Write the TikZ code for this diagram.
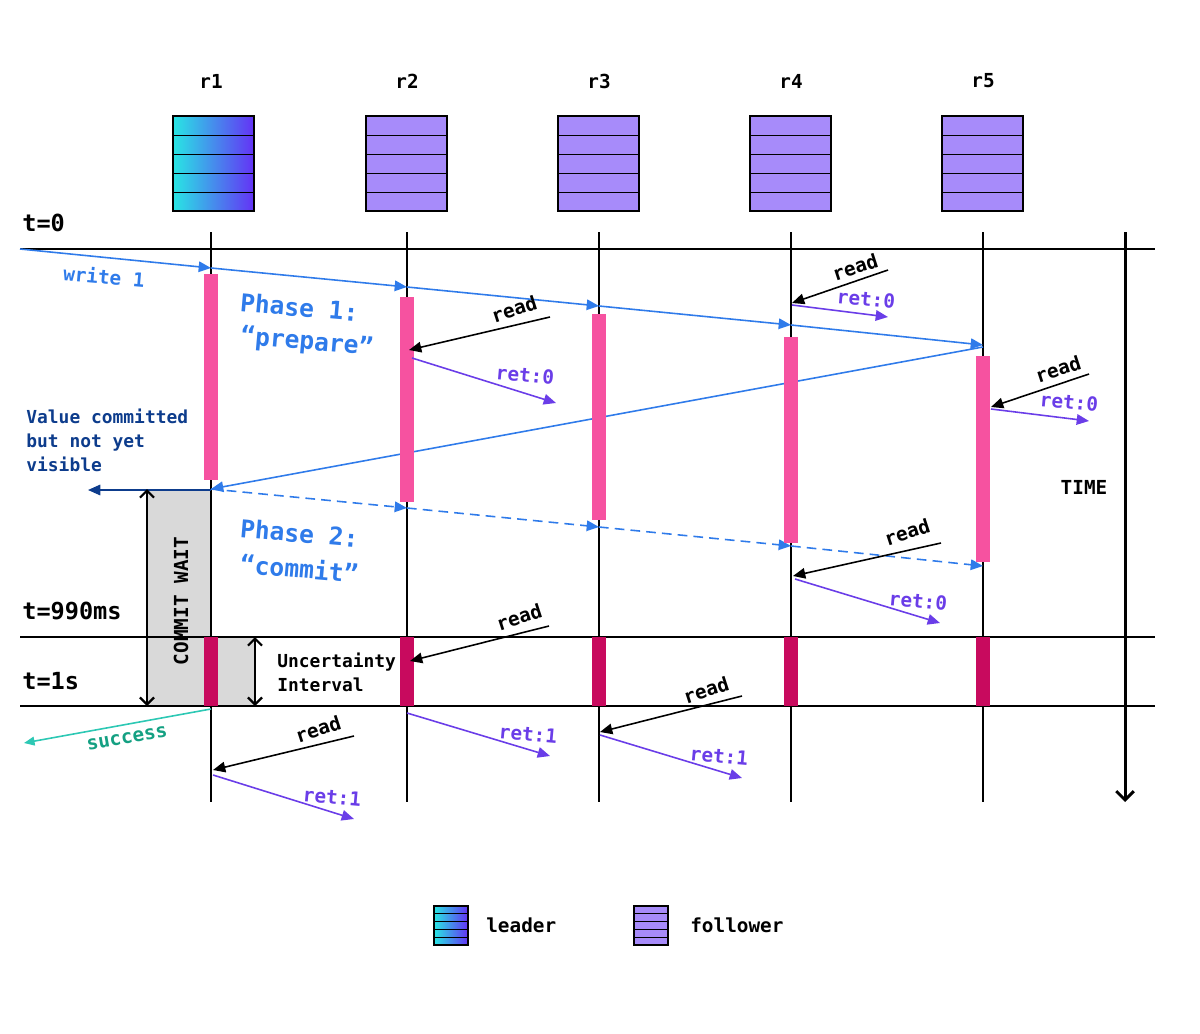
\documentclass[tikz,border=0pt]{standalone}
\usepackage{fontspec}
\setmainfont{DejaVu Sans Mono}
\usetikzlibrary{arrows.meta}

\begin{document}
\begin{tikzpicture}[x=0.02cm,y=-0.02cm,
  txt/.style={font=\fontsize{11}{13}\selectfont\bfseries,inner sep=0pt},
  small/.style={font=\fontsize{10.2}{13.6}\selectfont\bfseries,inner sep=0pt,align=left},
  big/.style={font=\fontsize{13.4}{16}\selectfont\bfseries,inner sep=0pt},
  phase/.style={font=\fontsize{14}{20.5}\selectfont\bfseries,inner sep=0pt,align=left,text=wblue,rotate=-5},
  life/.style={line width=1.1pt},
  wr/.style={wblue,line width=0.9pt,-{Triangle[length=7pt,width=6pt]}},
  rd/.style={black,line width=0.9pt,-{Triangle[length=7pt,width=6pt]}},
  rt/.style={rpurple,line width=0.9pt,-{Triangle[length=7pt,width=6pt]}},
  dbl/.style={line width=1.3pt,{Straight Barb[length=4pt,width=8pt]}-{Straight Barb[length=4pt,width=8pt]}}]
\definecolor{wblue}{RGB}{47,123,234}
\definecolor{prep}{RGB}{246,82,160}
\definecolor{cmt}{RGB}{200,10,94}
\definecolor{rpurple}{RGB}{106,61,232}
\definecolor{follow}{RGB}{167,139,250}
\definecolor{lcyan}{RGB}{40,230,228}
\definecolor{lviolet}{RGB}{100,50,245}
\definecolor{navy}{RGB}{13,60,140}
\definecolor{teal}{RGB}{45,200,180}
\definecolor{okgreen}{RGB}{20,160,130}
\definecolor{wait}{RGB}{217,217,217}

	\useasboundingbox (0,0) rectangle (1200,1034);

	\shade[left color=lcyan,right color=lviolet] (173,116) rectangle (254,211);
	\foreach \k in {1,...,4} \draw (173,116+19*\k) -- (254,116+19*\k);
	\draw[line width=0.7pt] (173,116) rectangle (254,211);
	\node[txt] (r1) at (211,81) {r1};
	\foreach \x/\n in {407/r2,599/r3,791/r4,983/r5} {
		\fill[follow] (\x-41,116) rectangle (\x+40,211);
		\foreach \k in {1,...,4} \draw (\x-41,116+19*\k) -- (\x+40,116+19*\k);
		\draw[line width=0.7pt] (\x-41,116) rectangle (\x+40,211);
		\node[txt] (\n) at (\x,81) {\n};
	}

	\fill[wait] (147,489) rectangle (211,706);
	\fill[wait] (211,637) rectangle (255,706);

	\foreach \y in {249,637,706} \draw[life] (20,\y) -- (1155,\y);
	\foreach \x in {211,407,599,791,983} \draw[life] (\x,232) -- (\x,802);
	\coordinate (t0) at (1125,232);
	\coordinate (t1) at (1125,802);
	\draw[line width=1.7pt,-{Straight Barb[length=5pt,width=10pt]}] (t0) -- (t1);

	\node[big,anchor=west] (T0) at (22,223) {t=0};
	\node[big,anchor=west] (T990) at (22,611) {t=990ms};
	\node[big,anchor=west] (T1) at (22,681) {t=1s};
	\node[txt] (time) at (1084,487) {TIME};

	\coordinate (c0) at (20,249);
	\coordinate (p1) at (211,268);
	\coordinate (p2) at (407,287);
	\coordinate (p3) at (599,306);
	\coordinate (p4) at (791,325);
	\coordinate (p5) at (983,345);
	\coordinate (q5) at (983,347);
	\coordinate (q1) at (211,489);
	\coordinate (d2) at (407,508);
	\coordinate (d3) at (599,527);
	\coordinate (d4) at (791,546);
	\coordinate (d5) at (983,566);
	\draw[wr] (c0) -- (p1);
	\draw[wr] (p1) -- (p2);
	\draw[wr] (p2) -- (p3);
	\draw[wr] (p3) -- (p4);
	\draw[wr] (p4) -- (p5);
	\draw[wr] (q5) -- (q1);
	\draw[wr,dash pattern=on 5.5pt off 3.5pt] (q1) -- (d2);
	\draw[wr,dash pattern=on 5.5pt off 3.5pt] (d2) -- (d3);
	\draw[wr,dash pattern=on 5.5pt off 3.5pt] (d3) -- (d4);
	\draw[wr,dash pattern=on 5.5pt off 3.5pt] (d4) -- (d5);
	\node[txt,text=wblue,rotate=-5] (w1) at (104,276) {write 1};

	\node[phase,anchor=west] (ph1) at (240,302) {Phase 1:};
	\node[phase,anchor=west] (ph1b) at (240,337) {“prepare”};
	\node[phase,anchor=west] (ph2) at (240,528) {Phase 2:};
	\node[phase,anchor=west] (ph2b) at (240,563) {“commit”};

	\foreach \x/\a/\b in {211/274/480,407/297/502,599/314/520,791/337/543,983/356/562}
		\fill[prep] (\x-7,\a) rectangle (\x+7,\b);
	\foreach \x in {211,407,599,791,983}
		\fill[cmt] (\x-7,637) rectangle (\x+7,706);

	\coordinate (v0) at (211,490);
	\coordinate (v1) at (88,490);
	\draw[navy,line width=0.9pt,-{Triangle[length=7pt,width=6pt]}] (v0) -- (v1);
	\node[small,text=navy,anchor=west] (vis) at (26,440) {Value committed\\but not yet\\visible};

	\coordinate (cw0) at (147,489);
	\coordinate (cw1) at (147,706);
	\draw[dbl] (cw0) -- (cw1);
	\node[txt,rotate=90] (cw) at (181,601) {COMMIT WAIT};
	\coordinate (ui0) at (255,637);
	\coordinate (ui1) at (255,706);
	\draw[dbl] (ui0) -- (ui1);
	\node[small,anchor=west] (ui) at (277,672) {Uncertainty\\Interval};

	\coordinate (s0) at (211,709);
	\coordinate (s1) at (24,743);
	\draw[teal,line width=0.9pt,-{Triangle[length=6pt,width=5pt]}] (s0) -- (s1);
	\node[txt,text=okgreen,rotate=10] (ok) at (127,738) {success};

	\foreach \i/\sx/\sy/\ex/\ey/\lx/\ly in {1/550/317/409/350/514/309, 2/888/270/792/303/855/267,
		3/1089/374/991/407/1058/369, 4/941/543/793/576/907/532, 5/549/626/410/661/519/617,
		6/742/696/600/732/706/690, 7/354/736/213/770/318/729} {
		\coordinate (rs\i) at (\sx,\sy);
		\coordinate (re\i) at (\ex,\ey);
		\draw[rd] (rs\i) -- (re\i);
		\node[txt,rotate=18] (rl\i) at (\lx,\ly) {read};
	}
	\foreach \i/\sx/\sy/\ex/\ey/\lx/\ly/\v in {1/412/358/556/403/525/375/0, 2/792/305/888/317/866/299/0,
		3/991/409/1089/421/1069/402/0, 4/795/579/940/623/918/601/0, 5/407/713/550/756/528/734/1,
		6/600/735/742/778/719/756/1, 7/213/775/354/819/332/797/1} {
		\coordinate (ts\i) at (\sx,\sy);
		\coordinate (te\i) at (\ex,\ey);
		\draw[rt] (ts\i) -- (te\i);
		\node[txt,text=rpurple,rotate=-5] (tl\i) at (\lx,\ly) {ret:\v};
	}

	\shade[left color=lcyan,right color=lviolet] (434,906) rectangle (468,945);
	\foreach \k in {1,...,4} \draw[line width=0.5pt] (434,906+7.8*\k) -- (468,906+7.8*\k);
	\draw[line width=0.7pt] (434,906) rectangle (468,945);
	\node[txt,anchor=west] (lead) at (486,925) {leader};
	\fill[follow] (634,906) rectangle (668,945);
	\foreach \k in {1,...,4} \draw[line width=0.5pt] (634,906+7.8*\k) -- (668,906+7.8*\k);
	\draw[line width=0.7pt] (634,906) rectangle (668,945);
	\node[txt,anchor=west] (fol) at (690,925) {follower};

\end{tikzpicture}
\end{document}
